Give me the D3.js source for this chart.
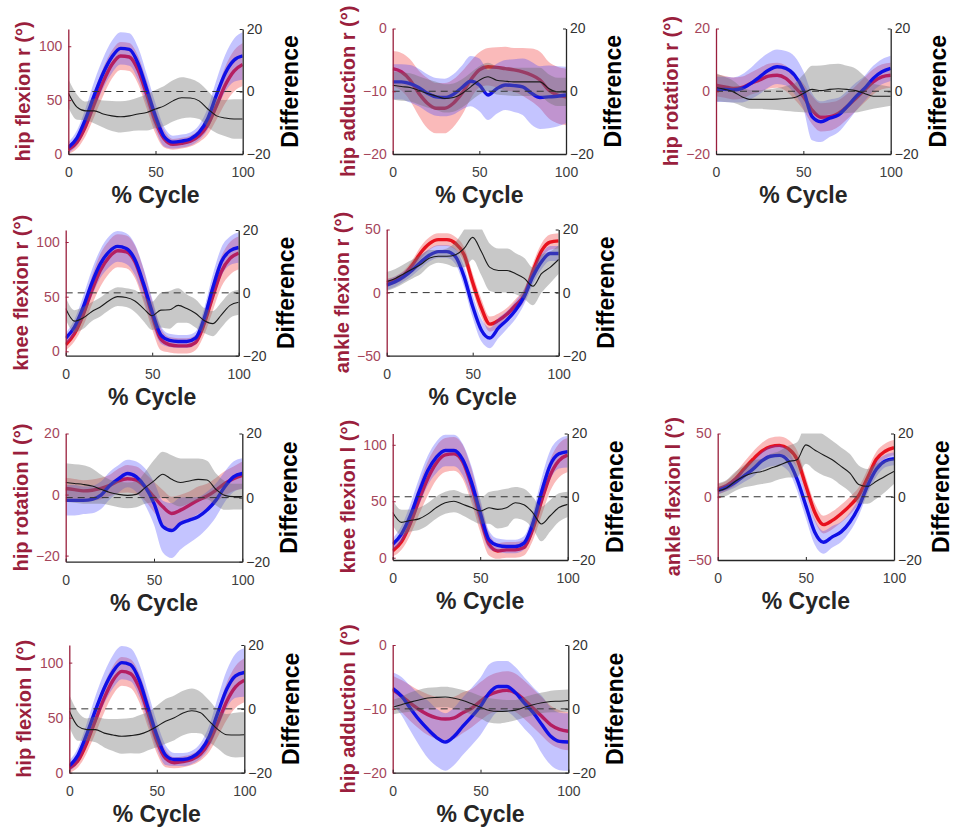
<!DOCTYPE html>
<html>
<head>
<meta charset="utf-8">
<script src="https://cdn.jsdelivr.net/npm/d3@7"></script>
<style>
  body { margin: 0; background: #fff; }
  svg { display: block; }
</style>
</head>
<body>
<svg id="fig" width="955" height="833"></svg>
<script>
// Gait cycle sample points (% of cycle)
const cycle = [0,5,10,15,20,25,30,35,40,45,50,55,60,65,70,75,80,85,90,95,100];

// hip flexion r
const hipFlexR_red    = [4,11,26,47,67,83,91,90,78,55,30,14,9,10,12,17,27,45,64,77,83];
const hipFlexR_redSd  = [4,6,9,12,13,13,13,13,13,13,11,8,5,5,5,6,9,13,17,19,20];
const hipFlexR_blue   = [6,15,33,55,75,90,98,97,84,60,35,16,11,12,14,20,33,55,75,87,91];
const hipFlexR_blueSd = [5,7,10,13,14,15,15,15,15,14,12,9,6,6,6,7,10,14,17,20,22];
const hipFlexR_diff   = [-0.5,-5,-6.2,-6.2,-7.2,-7.8,-8.1,-7.8,-7.2,-6.7,-5.6,-4.6,-3,-2,-2.1,-3,-5.6,-7.8,-8.5,-8.8,-8.8];
const hipFlexR_diffSd = [4.5,4,3,4,4.3,4.8,5,5,5.3,5.8,6.1,6.4,6.6,6.6,6.2,5.8,5.8,5.5,5.8,6.3,6.3];

// hip adduction r
const hipAddR_red    = [-6.4,-6.9,-8.2,-10.3,-11.9,-12.7,-12.7,-11.9,-10.3,-8.2,-6.6,-6.1,-6.2,-6.4,-6.6,-6.9,-7.4,-8.2,-9.8,-10.6,-10.9];
const hipAddR_redSd  = [2.8,3,3.3,3.6,4,4,4,3.8,3.5,3,2.8,3,3.2,3.5,3.5,3.8,4.2,4.5,4.5,4.5,4.5];
const hipAddR_blue   = [-8.5,-8.5,-8.8,-9.4,-10.3,-10.9,-11,-10.5,-9.4,-8.4,-9,-10.6,-9.6,-9,-9.1,-9.3,-10.3,-11,-10.9,-10.8,-10.6];
const hipAddR_blueSd = [2.8,2.8,3,3,3,3,3,3.2,3.5,4,4.2,4,4,4,4.2,4.5,5,5,5,4.8,4.5];
const hipAddR_diff   = [1.9,1.5,1.2,0.3,-0.7,-1.5,-2.3,-2,-0.7,1.4,3.5,4.6,3.5,3.2,3,3,3,3,0.9,-0.2,-0.2];
const hipAddR_diffSd = [4.5,4.5,4.5,4.5,4.5,4.5,4.5,4.5,4.5,4.5,4.5,4.5,4.5,4.5,4.5,4.5,4.5,4.5,4.5,4.5,4.5];

// hip rotation r
const hipRotR_red    = [1.9,1.4,0.9,1.2,2.5,3.6,4.8,5.1,4.1,1.4,-1.7,-6,-8.3,-8.1,-7.1,-4.9,-2.3,0.4,3,4.6,5.1];
const hipRotR_redSd  = [3.5,3.5,3.5,3.5,3.5,3.8,4,4,4,4,4.2,4.5,4.5,4.5,4.2,4,4,4,4,4,4];
const hipRotR_blue   = [0.6,0.6,0.4,0.9,2.5,4.6,6.7,7.8,7.3,5.1,0.4,-8.1,-9.7,-8.6,-7.6,-4.9,-1.8,0.9,4.1,6.2,7.3];
const hipRotR_blueSd = [4,4,4,4.5,5,5.5,5.5,5.5,5.5,6,6,7.5,6.5,6,5.5,5,4.5,4,4,4,4];
const hipRotR_diff   = [1.2,0.6,-0.2,-1.8,-2.6,-2.6,-2.6,-2.5,-2.3,-2,-0.7,0.6,0.2,0.6,0.8,0.6,0.2,-0.7,-1.6,-1.6,-1.6];
const hipRotR_diffSd = [4.5,4,3.5,3,3,3,3.2,3.5,4,4.5,6,7.5,8,8,8,7.5,7,5.5,4,3.5,3];

// knee flexion r
const kneeFlexR_red    = [6,16,33,55,74,86,92,91,82,60,33,11,6,5,5,8,25,50,73,85,90];
const kneeFlexR_redSd  = [5,7,10,13,15,15,15,15,15,15,13,10,7,7,7,7,10,13,14,15,15];
const kneeFlexR_blue   = [12,22,40,62,80,91,96,94,84,62,36,15,10,9,9,12,30,58,82,92,95];
const kneeFlexR_blueSd = [5,7,10,12,13,14,14,14,14,14,12,8,6,6,6,6,9,12,13,13,14];
const kneeFlexR_diff   = [-5,-9,-8,-6,-4.5,-2.5,-1.2,-1.5,-2.6,-5,-7.3,-5.5,-5.4,-4,-5,-6.5,-8.8,-9.8,-7,-4,-3];
const kneeFlexR_diffSd = [3.5,3.5,3.5,3,3,3,3,3,3.5,4,4.5,5.5,6,5.5,4.5,4.5,4,4,4,4,4];

// ankle flexion r
const ankleFlexR_red    = [8,10,14,22,32,39,42,42,39,30,8,-12,-25,-22,-17,-10,-2,17,33,40,41];
const ankleFlexR_redSd  = [3,3,3.5,4,5,5,5,5,5,6,7,7,6,5.5,5,5,5,6,6,6,6];
const ankleFlexR_blue   = [6,8.7,12.7,18,24.5,29.8,32.5,32.5,28.5,12.7,-11,-29.6,-36,-28,-21.6,-13.7,-3,12.7,24.5,31,31];
const ankleFlexR_blueSd = [4,4,4,4.5,5,5,5,5,6,8,9,9,8,8,7,7,6,6,6,6,6];
const ankleFlexR_diff   = [3.5,4.5,6,7.5,9,11,11.5,11.5,12,14,17.5,13,8,7,7,6,4.5,2,6,8,10.5];
const ankleFlexR_diffSd = [3,3,3,3,3,2.5,2,2.5,4,6,7,7.5,7.5,7,7,6.5,6.5,6,6,5,4.5];

// hip rotation l
const hipRotL_red    = [2,1.6,1.2,1.4,2,3,4.5,5.2,4.7,2.5,-0.8,-4,-6.2,-5.1,-3.5,-1.9,-0.5,1.4,3.6,5.2,6.3];
const hipRotL_redSd  = [3.5,3.5,3.5,3.5,3.5,3.5,4,4.5,4.5,4.5,5,5.5,5.5,5,4.5,4.5,4,4,4,4,4.5];
const hipRotL_blue   = [-1.9,-1.9,-1.9,-1.6,-0.2,3,5.2,6.9,5.8,2.5,-2.9,-10.5,-11.8,-9.5,-8.4,-7.3,-5.1,-1.9,2.5,5.8,6.9];
const hipRotL_blueSd = [5,5,4.5,4.5,4.5,4.5,4.5,4.5,5,6,7,8.5,9,8.5,7.5,6.5,6,5.5,5,5,5];
const hipRotL_diff   = [4.7,4.4,4.1,3.6,2.6,1.6,1,0.7,1,3.1,5.2,7.3,5.7,4.7,5.2,5.7,5.5,2.6,0.7,0.3,0.3];
const hipRotL_diffSd = [6,6,6,5.5,4.5,4,4,4,4,5,6.5,7,7.5,7.5,7,6.5,6,5,4.5,4,4];

// knee flexion l
const kneeFlexL_red    = [6,14,30,51,70,84,91,92,85,64,36,12,6,7,7,9,25,50,73,86,91];
const kneeFlexL_redSd  = [5,7,10,13,15,15,15,15,15,15,13,10,7,7,7,7,10,13,14,15,15];
const kneeFlexL_blue   = [12,21,37,58,77,89,95,95,87,67,40,16,11,10,10,13,30,58,82,92,94];
const kneeFlexL_blueSd = [5,7,10,12,13,14,14,14,14,14,12,8,6,6,6,6,9,12,13,13,14];
const kneeFlexL_diff   = [-5,-8.1,-7.5,-7,-5.5,-3.4,-1.9,-1.4,-2.4,-3.4,-4.5,-3.5,-4,-3.5,-1.9,-2.5,-5,-8.6,-6,-3.4,-2.4];
const kneeFlexL_diffSd = [4,4,3.5,3.5,3.5,3.5,3.5,3.5,3.5,4,4,5,6,6,5,5,5,5.5,5,4.5,4];

// ankle flexion l
const ankleFlexL_red    = [6,8.7,14,22,29.6,36,39.6,40.6,38,29.6,8.7,-12,-22,-18.7,-13.4,-7,1,15,29.6,36,38.8];
const ankleFlexL_redSd  = [4,4,5,5.5,6,6.5,7,7,7,7,7,7,7,7,7,7,6.5,6.5,6,6,6];
const ankleFlexL_blue   = [4.8,7.4,11.4,16.6,21.8,28.3,32,32.7,28.3,14,-7,-27.8,-36,-31.7,-27.8,-20,-8,8.7,21.8,28.3,30];
const ankleFlexL_blueSd = [3,3,4,5,6,7,8,8,8,9,10,10,9,8.5,8,7.5,7,6,6,5,5];
const ankleFlexL_diff   = [1.8,2.8,4.9,6.5,7.5,8,9,10,11.1,11.7,16.4,14.8,13.2,11.7,9.6,7.5,3.9,3.3,4.9,6.5,8];
const ankleFlexL_diffSd = [2.5,2.5,3,3.5,4,4,4.5,4.5,5,5.5,6,6.5,6.5,6,6,6,6,5.5,5.5,5,4];

// hip flexion l
const hipFlexL_red    = [4,11,27,48,68,84,92,90,77,54,29,13,9,10,12,17,28,46,65,78,84];
const hipFlexL_redSd  = [4,6,9,12,13,13,13,13,13,13,11,8,5,5,5,6,9,13,17,19,20];
const hipFlexL_blue   = [6,16,35,57,77,92,100,98,84,59,34,16,12,12,14,20,33,55,76,88,91];
const hipFlexL_blueSd = [5,7,10,13,14,15,15,15,15,14,12,9,6,6,6,7,10,14,17,20,22];
const hipFlexL_diff   = [-0.7,-5.5,-6.5,-6.5,-7.6,-8.2,-8.6,-8.4,-8,-7,-5.5,-3.9,-2.8,-1.3,-0.6,-1.2,-3.9,-6.5,-8.1,-8.2,-8.1];
const hipFlexL_diffSd = [5,4.5,3.5,4,4.5,5,5.5,5.5,6,6,6.5,7,7,7,7,6.5,6.5,6,6.5,7,7];

// hip adduction l
const hipAddL_red    = [-7,-8,-9.1,-10.1,-10.9,-11.4,-11.6,-11.4,-10.6,-9.9,-8.8,-7.8,-7.3,-7.1,-7.5,-8.6,-9.9,-11.2,-12.5,-13.2,-13.5];
const hipAddL_redSd  = [2.2,2.5,2.8,3,3.2,3.3,3.3,3.3,3.2,3,3,3,3,3,3,3,3,3,3,3,3];
const hipAddL_blue   = [-6.8,-8,-9.9,-11.7,-13.2,-14.5,-15.2,-14.3,-12.7,-11.2,-9.6,-7.5,-6.5,-6.5,-7.5,-9.1,-10.6,-12.5,-14.3,-15.1,-15.2];
const hipAddL_blueSd = [2.5,3,3.5,4,4.5,4.5,4.5,4.5,4.5,4.5,4.5,4.5,4,4,4,4,4,4.5,4.5,4.5,4.5];
const hipAddL_diff   = [0.5,1.3,2.1,2.8,3.4,3.6,3.7,3.3,2.6,1.6,0.5,-0.5,-0.8,-0.7,-0.4,0.5,1.3,1.9,2.3,2.4,2.6];
const hipAddL_diffSd = [2.3,2.5,3,3.2,3.2,3.2,3.2,3.2,3.3,3.5,3.5,3.8,3.8,3.5,3.2,3.2,3.2,3.2,3.4,3.5,3.5];

// Axis labels, left-axis limits and ticks
const panelLabels = ["hip flexion r (\u00B0)","hip adduction r (\u00B0)","hip rotation r (\u00B0)",
  "knee flexion r (\u00B0)","ankle flexion r (\u00B0)","hip rotation l (\u00B0)",
  "knee flexion l (\u00B0)","ankle flexion l (\u00B0)","hip flexion l (\u00B0)","hip adduction l (\u00B0)"];
const leftDomains = [[0,116],[-20,0],[-20,20],[-4,111],[-50,50],[-22,20],[-2,110],[-50,50],[0,116],[-20,0]];
const leftTicks = [[0,50,100],[-20,-10,0],[-20,0,20],[0,50,100],[-50,0,50],[-20,0,20],[0,50,100],[-50,0,50],[0,50,100],[-20,-10,0]];
const rightTicks = [-20,0,20];
const xTicks = [0,50,100];
const diffDomain = [-20,20];

// Plot-area boxes (page pixels) for each panel
const frames = [
  {x0:68.3, x1:242.7, y0:29,    y1:154},
  {x0:392.7,x1:566,   y0:28.5,  y1:154},
  {x0:716,  x1:890.7, y0:28.5,  y1:154},
  {x0:65.7, x1:238.7, y0:230,   y1:355.7},
  {x0:386.7,x1:558.7, y0:229.5, y1:355.7},
  {x0:65.7, x1:242.3, y0:433.5, y1:561.7},
  {x0:392.7,x1:567.7, y0:433.5, y1:560},
  {x0:717.7,x1:894,   y0:433.5, y1:560},
  {x0:69.3, x1:244.3, y0:645,   y1:772.7},
  {x0:392.7,x1:568.3, y0:645,   y1:772.7}
];

const series = [
  [hipFlexR_red,hipFlexR_redSd,hipFlexR_blue,hipFlexR_blueSd,hipFlexR_diff,hipFlexR_diffSd],
  [hipAddR_red,hipAddR_redSd,hipAddR_blue,hipAddR_blueSd,hipAddR_diff,hipAddR_diffSd],
  [hipRotR_red,hipRotR_redSd,hipRotR_blue,hipRotR_blueSd,hipRotR_diff,hipRotR_diffSd],
  [kneeFlexR_red,kneeFlexR_redSd,kneeFlexR_blue,kneeFlexR_blueSd,kneeFlexR_diff,kneeFlexR_diffSd],
  [ankleFlexR_red,ankleFlexR_redSd,ankleFlexR_blue,ankleFlexR_blueSd,ankleFlexR_diff,ankleFlexR_diffSd],
  [hipRotL_red,hipRotL_redSd,hipRotL_blue,hipRotL_blueSd,hipRotL_diff,hipRotL_diffSd],
  [kneeFlexL_red,kneeFlexL_redSd,kneeFlexL_blue,kneeFlexL_blueSd,kneeFlexL_diff,kneeFlexL_diffSd],
  [ankleFlexL_red,ankleFlexL_redSd,ankleFlexL_blue,ankleFlexL_blueSd,ankleFlexL_diff,ankleFlexL_diffSd],
  [hipFlexL_red,hipFlexL_redSd,hipFlexL_blue,hipFlexL_blueSd,hipFlexL_diff,hipFlexL_diffSd],
  [hipAddL_red,hipAddL_redSd,hipAddL_blue,hipAddL_blueSd,hipAddL_diff,hipAddL_diffSd]
];

const FONT = '"Liberation Sans", Arial, Helvetica, sans-serif';
const LEFT_COLOR = "#9a1f3d";
const LEFT_TICK_COLOR = "#a5455a";
const AXIS_COLOR = "#262626";

const svg = d3.select("#fig");

series.forEach((s, i) => {
  const [red, redSd, blue, blueSd, diff, diffSd] = s;
  const f = frames[i];
  const x = d3.scaleLinear().domain([0, 100]).range([f.x0, f.x1]);
  const yL = d3.scaleLinear().domain(leftDomains[i]).range([f.y1, f.y0]);
  const yR = d3.scaleLinear().domain(diffDomain).range([f.y1, f.y0]);

  const g = svg.append("g").attr("class", "panel");
  const clipId = "clip" + i;
  g.append("clipPath").attr("id", clipId).append("rect")
    .attr("x", f.x0).attr("y", f.y0).attr("width", f.x1 - f.x0).attr("height", f.y1 - f.y0);
  const plot = g.append("g").attr("clip-path", `url(#${clipId})`);

  const band = (m, sd, y) => d3.area()
    .x((d, j) => x(cycle[j]))
    .y0((d, j) => y(m[j] - sd[j]))
    .y1((d, j) => y(m[j] + sd[j]))
    .curve(d3.curveMonotoneX)(m);
  const line = (m, y) => d3.line()
    .x((d, j) => x(cycle[j]))
    .y(d => y(d))
    .curve(d3.curveMonotoneX)(m);

  // group A (red): band and mean
  plot.append("path").attr("d", band(red, redSd, yL)).attr("fill", "#f04040").attr("fill-opacity", 0.36);
  plot.append("path").attr("d", line(red, yL)).attr("fill", "none").attr("stroke", "#e8121e").attr("stroke-width", 3.4);
  // group B (blue): band and mean
  plot.append("path").attr("d", band(blue, blueSd, yL)).attr("fill", "#3a3aff").attr("fill-opacity", 0.3);
  plot.append("path").attr("d", line(blue, yL)).attr("fill", "none").attr("stroke", "#1010e6").attr("stroke-width", 3.4);
  // difference (right axis)
  plot.append("path").attr("d", band(diff, diffSd, yR)).attr("fill", "#6e6e6e").attr("fill-opacity", 0.38);
  plot.append("path").attr("d", line(diff, yR)).attr("fill", "none").attr("stroke", "#1a1a1a").attr("stroke-width", 1.1);
  // zero-difference reference
  plot.append("line")
    .attr("x1", f.x0).attr("x2", f.x1).attr("y1", yR(0)).attr("y2", yR(0))
    .attr("stroke", "#333").attr("stroke-width", 1).attr("stroke-dasharray", "7,5");

  // axes
  const axL = g.append("g").attr("transform", `translate(${f.x0},0)`)
    .call(d3.axisLeft(yL).tickValues(leftTicks[i]).tickSizeInner(-3).tickSizeOuter(0).tickPadding(6));
  axL.select(".domain").attr("stroke", LEFT_COLOR).attr("stroke-width", 1.3);
  axL.selectAll(".tick line").attr("stroke", LEFT_COLOR);
  axL.selectAll(".tick text").attr("fill", LEFT_TICK_COLOR).attr("font-family", FONT).attr("font-size", 14);

  const axR = g.append("g").attr("transform", `translate(${f.x1},0)`)
    .call(d3.axisRight(yR).tickValues(rightTicks).tickSizeInner(-3).tickSizeOuter(0).tickPadding(4));
  axR.select(".domain").attr("stroke", AXIS_COLOR).attr("stroke-width", 1.3);
  axR.selectAll(".tick line").attr("stroke", AXIS_COLOR);
  axR.selectAll(".tick text").attr("fill", "#333").attr("font-family", FONT).attr("font-size", 14);

  const axB = g.append("g").attr("transform", `translate(0,${f.y1})`)
    .call(d3.axisBottom(x).tickValues(xTicks).tickSizeInner(-3).tickSizeOuter(0).tickPadding(13));
  axB.select(".domain").attr("stroke", AXIS_COLOR).attr("stroke-width", 1.3);
  axB.selectAll(".tick line").attr("stroke", AXIS_COLOR);
  axB.selectAll(".tick text").attr("fill", "#404040").attr("font-family", FONT).attr("font-size", 14);

  const cy = (f.y0 + f.y1) / 2;
  // left label
  g.append("text")
    .attr("transform", `translate(${f.x0 - 45},${cy}) rotate(-90)`)
    .attr("text-anchor", "middle").attr("dy", "0.35em")
    .attr("font-family", FONT).attr("font-weight", "bold").attr("font-size", 20)
    .attr("fill", LEFT_COLOR)
    .text(panelLabels[i]);
  // right label
  g.append("text")
    .attr("transform", `translate(${f.x1 + 47},${cy}) rotate(-90)`)
    .attr("text-anchor", "middle").attr("dy", "0.35em")
    .attr("font-family", FONT).attr("font-weight", "bold").attr("font-size", 23)
    .attr("fill", "#000")
    .text("Difference");
  // x label
  g.append("text")
    .attr("x", (f.x0 + f.x1) / 2).attr("y", f.y1 + 49)
    .attr("text-anchor", "middle")
    .attr("font-family", FONT).attr("font-weight", "bold").attr("font-size", 23)
    .attr("fill", "#262626")
    .text("% Cycle");
});
</script>
</body>
</html>
